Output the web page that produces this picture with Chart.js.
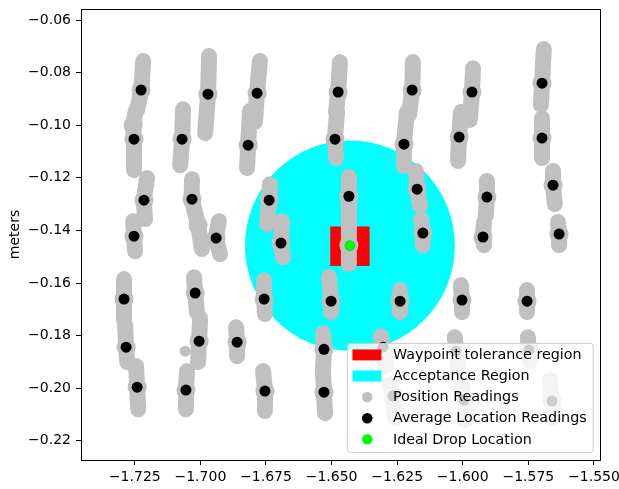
<!DOCTYPE html>
<html><head><meta charset="utf-8">
<script src="https://cdn.jsdelivr.net/npm/chart.js@4"></script>
<style>html,body{margin:0;padding:0;background:#fff;}#wrap{width:619px;height:489px;}</style>
</head><body><div id="wrap"><canvas id="c" width="619" height="489"></canvas></div>
<script>
const xTickValues = [-1.725, -1.700, -1.675, -1.650, -1.625, -1.600, -1.575, -1.550];
const yTickValues = [-0.22, -0.20, -0.18, -0.16, -0.14, -0.12, -0.10, -0.08, -0.06];
const xRange = [-1.7455, -1.5477];
const yRange = [-0.2273, -0.0558];
const yAxisTitle = 'meters';
const legendLabels = ['Waypoint tolerance region', 'Acceptance Region', 'Position Readings', 'Average Location Readings', 'Ideal Drop Location'];

const idealDrop = [-1.643, -0.1458];
const acceptanceRadius = 0.04;
const waypointX = [-1.6505, -1.6355];
const waypointY = [-0.1535, -0.1385];

const avgX = [
  -1.7226, -1.7253, -1.7215, -1.7253, -1.7291, -1.7283, -1.7241,
  -1.7070, -1.6971, -1.7032, -1.6940, -1.7020, -1.7005, -1.7055,
  -1.6784, -1.6818, -1.6738, -1.6693, -1.6757, -1.6860, -1.6754,
  -1.6475, -1.6487, -1.6434, -1.6502, -1.6529, -1.6529,
  -1.6193, -1.6224, -1.6174, -1.6152, -1.6239, -1.6304, -1.6266,
  -1.5965, -1.6014, -1.5908, -1.5923, -1.6003, -1.6026, -1.5995,
  -1.5698, -1.5698, -1.5656, -1.5633, -1.5755, -1.5748, -1.5660
];
const avgY = [
  -0.0866, -0.1053, -0.1285, -0.1422, -0.1661, -0.1844, -0.1996,
  -0.1053, -0.0882, -0.1281, -0.1429, -0.1638, -0.1821, -0.2007,
  -0.0878, -0.1076, -0.1285, -0.1448, -0.1661, -0.1825, -0.2011,
  -0.0874, -0.1053, -0.1270, -0.1669, -0.1852, -0.2015,
  -0.0866, -0.1072, -0.1243, -0.1410, -0.1669, -0.1844, -0.2030,
  -0.0874, -0.1045, -0.1273, -0.1425, -0.1665, -0.1859, -0.2045,
  -0.0840, -0.1049, -0.1228, -0.1414, -0.1669, -0.1855, -0.2049
];

// position readings, traced as vertical tracks (x, y pairs)
const readingTracks = [
  [[-1.7218,-0.0756],[-1.7226,-0.0866],[-1.7241,-0.0942]],
  [[-1.7245,-0.0942],[-1.7256,-0.1000],[-1.7253,-0.1053],[-1.7253,-0.1171]],
  [[-1.7203,-0.1201],[-1.7215,-0.1285],[-1.7211,-0.1357]],
  [[-1.7256,-0.1365],[-1.7253,-0.1422],[-1.7249,-0.1479]],
  [[-1.7291,-0.1585],[-1.7291,-0.1661],[-1.7291,-0.1741]],
  [[-1.7287,-0.1760],[-1.7283,-0.1844],[-1.7279,-0.1901]],
  [[-1.7245,-0.1916],[-1.7241,-0.1996],[-1.7237,-0.2080]],
  [[-1.7066,-0.0939],[-1.7070,-0.1053],[-1.7077,-0.1152]],
  [[-1.6967,-0.0737],[-1.6971,-0.0882],[-1.6982,-0.1030]],
  [[-1.7032,-0.1205],[-1.7032,-0.1281],[-1.7009,-0.1380],[-1.6994,-0.1471]],
  [[-1.6929,-0.1365],[-1.6940,-0.1429],[-1.6925,-0.1490]],
  [[-1.7024,-0.1578],[-1.7020,-0.1638],[-1.7013,-0.1711]],
  [[-1.7001,-0.1734],[-1.7005,-0.1821],[-1.7009,-0.1901]],
  [[-1.7051,-0.1935],[-1.7055,-0.2007],[-1.7055,-0.2080]],
  [[-1.7058,-0.1859]],
  [[-1.6773,-0.0756],[-1.6784,-0.0878],[-1.6792,-0.0988]],
  [[-1.6811,-0.0946],[-1.6818,-0.1076],[-1.6822,-0.1163]],
  [[-1.6735,-0.1224],[-1.6738,-0.1285],[-1.6746,-0.1376]],
  [[-1.6689,-0.1365],[-1.6693,-0.1448],[-1.6685,-0.1502]],
  [[-1.6757,-0.1589],[-1.6757,-0.1661],[-1.6754,-0.1718]],
  [[-1.6864,-0.1768],[-1.6860,-0.1825],[-1.6860,-0.1878]],
  [[-1.6761,-0.1935],[-1.6754,-0.2011],[-1.6754,-0.2087]],
  [[-1.6468,-0.0760],[-1.6475,-0.0874],[-1.6483,-0.0950]],
  [[-1.6479,-0.0950],[-1.6487,-0.1053],[-1.6483,-0.1125]],
  [[-1.6434,-0.1197],[-1.6434,-0.1270],[-1.6434,-0.1361]],
  [[-1.6434,-0.1361],[-1.6434,-0.1456],[-1.6434,-0.1528]],
  [[-1.6510,-0.1578],[-1.6502,-0.1669],[-1.6502,-0.1711]],
  [[-1.6533,-0.1791],[-1.6529,-0.1852],[-1.6533,-0.1931]],
  [[-1.6533,-0.1931],[-1.6529,-0.2015],[-1.6525,-0.2095]],
  [[-1.6190,-0.0760],[-1.6193,-0.0866],[-1.6205,-0.0961]],
  [[-1.6213,-0.0950],[-1.6224,-0.1072],[-1.6224,-0.1155]],
  [[-1.6178,-0.1174],[-1.6174,-0.1243],[-1.6163,-0.1304]],
  [[-1.6159,-0.1357],[-1.6152,-0.1410],[-1.6152,-0.1456]],
  [[-1.6239,-0.1627],[-1.6239,-0.1669],[-1.6239,-0.1711]],
  [[-1.6312,-0.1802],[-1.6304,-0.1844],[-1.6293,-0.1916]],
  [[-1.6277,-0.1985],[-1.6266,-0.2030],[-1.6258,-0.2114]],
  [[-1.5961,-0.0783],[-1.5965,-0.0874],[-1.5973,-0.0980]],
  [[-1.6007,-0.0950],[-1.6014,-0.1045],[-1.6018,-0.1136]],
  [[-1.5908,-0.1212],[-1.5908,-0.1273],[-1.5912,-0.1342]],
  [[-1.5919,-0.1368],[-1.5923,-0.1425],[-1.5919,-0.1456]],
  [[-1.6007,-0.1608],[-1.6003,-0.1665],[-1.6003,-0.1711]],
  [[-1.6030,-0.1806],[-1.6026,-0.1859],[-1.6018,-0.1920]],
  [[-1.6003,-0.1985],[-1.5995,-0.2045],[-1.5992,-0.2122]],
  [[-1.5691,-0.0710],[-1.5698,-0.0840],[-1.5702,-0.0923]],
  [[-1.5698,-0.0973],[-1.5698,-0.1049],[-1.5698,-0.1125]],
  [[-1.5656,-0.1174],[-1.5656,-0.1228],[-1.5649,-0.1300]],
  [[-1.5637,-0.1368],[-1.5633,-0.1414],[-1.5633,-0.1456]],
  [[-1.5755,-0.1627],[-1.5755,-0.1669],[-1.5755,-0.1711]],
  [[-1.5752,-0.1806],[-1.5748,-0.1855],[-1.5744,-0.1897]],
  [[-1.5668,-0.1969],[-1.5660,-0.2049],[-1.5656,-0.2114]]
];

const COLORS = { waypoint: '#ff0000', acceptance: '#00ffff', reading: '#c0c0c0', average: '#000000', ideal: '#00ff00' };
const FONT = '"DejaVu Sans", sans-serif';
const FS = 14;
const LEGEND_FS = 14.3;

const readingData = [];
readingTracks.forEach((tr, i) => {
  if (i > 0) readingData.push({ x: tr[0][0], y: null });
  tr.forEach(p => readingData.push({ x: p[0], y: p[1] }));
});
const avgData = avgX.map((x, i) => ({ x, y: avgY[i] }));

function readingRadius(i) {
  const prev = readingData[i - 1], next = readingData[i + 1];
  const pe = !prev || prev.y === null, ne = !next || next.y === null;
  if (pe && ne) return 5.5;   // a single isolated reading
  if (pe || ne) return 0;     // track end: rounded cap only
  return 9.5;                 // dense middle of a track
}

function fmt(v, d) { return (v < 0 ? '\u2212' : '') + Math.abs(v).toFixed(d); }

const overlayPlugin = {
  id: 'overlay',
  beforeDatasetsDraw(chart) {
    const { ctx, chartArea: a, scales: { x, y } } = chart;
    ctx.save();
    ctx.beginPath(); ctx.rect(a.left, a.top, a.width, a.height); ctx.clip();
    const cx = x.getPixelForValue(idealDrop[0]), cy = y.getPixelForValue(idealDrop[1]);
    const rx = Math.abs(x.getPixelForValue(idealDrop[0] + acceptanceRadius) - cx);
    const ry = Math.abs(y.getPixelForValue(idealDrop[1] + acceptanceRadius) - cy);
    ctx.fillStyle = COLORS.acceptance;
    ctx.beginPath(); ctx.ellipse(cx, cy, rx, ry, 0, 0, Math.PI * 2); ctx.fill();
    const x0 = x.getPixelForValue(waypointX[0]), x1 = x.getPixelForValue(waypointX[1]);
    const y0 = y.getPixelForValue(waypointY[0]), y1 = y.getPixelForValue(waypointY[1]);
    ctx.fillStyle = COLORS.waypoint;
    ctx.fillRect(Math.min(x0, x1), Math.min(y0, y1), Math.abs(x1 - x0), Math.abs(y1 - y0));
    ctx.restore();
  },
  afterDatasetsDraw(chart) {
    const { ctx, chartArea: a } = chart;
    ctx.save();
    ctx.strokeStyle = '#000'; ctx.lineWidth = 1;
    ctx.strokeRect(a.left + 0.5, a.top + 0.5, a.width, a.height);
    ctx.font = LEGEND_FS + 'px ' + FONT;
    const textW = Math.max(...legendLabels.map(t => ctx.measureText(t).width));
    const rowH = 21.1;
    const w = 46 + textW + 6;
    const h = 12 + 4 * rowH + 12.7;
    const right = a.right - 7.3, bottom = a.bottom - 8;
    const left = right - w, top = bottom - h;
    ctx.beginPath();
    ctx.roundRect(left + 0.5, top + 0.5, w, h, 3);
    ctx.fillStyle = 'rgba(255,255,255,0.8)'; ctx.fill();
    ctx.strokeStyle = '#cccccc'; ctx.lineWidth = 1; ctx.stroke();
    const handleColors = [COLORS.waypoint, COLORS.acceptance, COLORS.reading, COLORS.average, COLORS.ideal];
    legendLabels.forEach((t, i) => {
      const cy = top + 12 + i * rowH;
      ctx.fillStyle = handleColors[i];
      if (i < 2) {
        ctx.fillRect(left + 5.5, cy - 5.5, 29, 11);
      } else {
        ctx.beginPath(); ctx.arc(left + 20.3, cy, 5.3, 0, Math.PI * 2); ctx.fill();
      }
      ctx.fillStyle = '#000'; ctx.textBaseline = 'middle'; ctx.textAlign = 'left';
      ctx.fillText(t, left + 46, cy + 0.5);
    });
    ctx.restore();
  }
};

new Chart(document.getElementById('c'), {
  type: 'scatter',
  data: {
    datasets: [
      { label: legendLabels[4], data: [{ x: idealDrop[0], y: idealDrop[1] }], backgroundColor: COLORS.ideal, borderColor: '#22bb22', pointRadius: 5, pointBorderWidth: 0.6, clip: 0 },
      { label: legendLabels[3], data: avgData, backgroundColor: COLORS.average, borderColor: COLORS.average, pointRadius: 5.5, pointBorderWidth: 0, clip: 0 },
      { label: legendLabels[2], data: readingData, showLine: true, spanGaps: false, borderColor: COLORS.reading, backgroundColor: COLORS.reading,
        borderWidth: 16, borderCapStyle: 'round', borderJoinStyle: 'round',
        pointRadius: c => readingRadius(c.dataIndex),
        pointBorderWidth: 0, tension: 0.2, clip: 0 }
    ]
  },
  options: {
    responsive: false, animation: false, devicePixelRatio: 1,
    layout: { padding: { left: 0, top: 9, right: 19, bottom: 0 } },
    plugins: { legend: { display: false }, tooltip: { enabled: false } },
    scales: {
      x: {
        type: 'linear', min: xRange[0], max: xRange[1],
        afterBuildTicks: s => { s.ticks = xTickValues.map(v => ({ value: v })); },
        afterFit: s => { s.height = 29; s.paddingLeft = 0; s.paddingRight = 0; },
        ticks: { autoSkip: false, maxRotation: 0, padding: 4, color: '#000', font: { family: FONT, size: FS }, callback: v => fmt(v, 3) },
        grid: { display: true, drawOnChartArea: false, drawTicks: true, tickLength: 5, color: '#000', lineWidth: 1 },
        border: { display: false }
      },
      y: {
        type: 'linear', min: yRange[0], max: yRange[1],
        afterBuildTicks: s => { s.ticks = yTickValues.map(v => ({ value: v })); },
        afterFit: s => { s.width = 81; s.paddingTop = 0; s.paddingBottom = 0; },
        ticks: { autoSkip: false, padding: 5, color: '#000', font: { family: FONT, size: FS }, callback: v => fmt(v, 2) },
        grid: { display: true, drawOnChartArea: false, drawTicks: true, tickLength: 5, color: '#000', lineWidth: 1 },
        border: { display: false },
        title: { display: true, text: yAxisTitle, color: '#000', font: { family: FONT, size: FS }, padding: { top: 6.5, bottom: 0 } }
      }
    }
  },
  plugins: [overlayPlugin]
});
</script></body></html>
